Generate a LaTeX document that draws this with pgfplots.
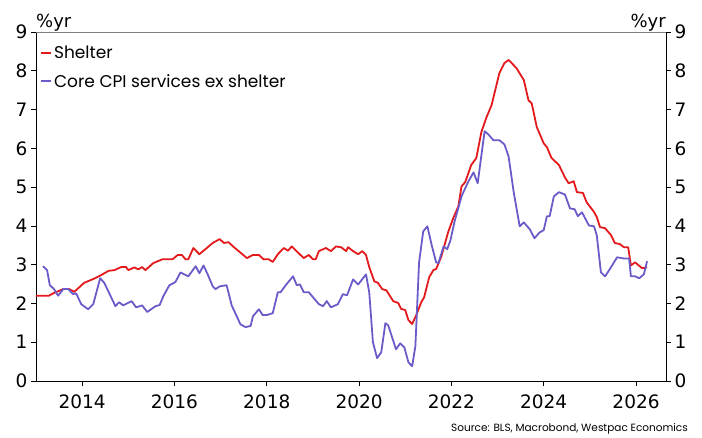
\documentclass[border=0pt]{standalone}
\usepackage{fontspec}
\setmainfont{Poppins}
\newfontfamily\tickfont{DejaVu Sans}
\usepackage{pgfplots}
\pgfplotsset{compat=1.18}
\definecolor{shred}{HTML}{E3191B}
\definecolor{cpiblue}{HTML}{6A5CC8}
\begin{document}
\begin{tikzpicture}
\useasboundingbox (-36pt,-56pt) rectangle (666pt,381pt);
\pgfplotsset{every axis/.append style={
  scale only axis, width=630pt, height=349pt, at={(0,0)}, anchor=south west,
  xmin=2013, xmax=2026.65, ymin=0, ymax=9,
  tick align=outside, major tick length=5pt,
  every tick/.style={black, line width=0.6pt},
  axis line style={black, line width=0.8pt},
  ytick={0,1,...,9},
  /pgf/number format/assume math mode=true,
  /pgf/number format/1000 sep={},
  tick label style={font=\tickfont\fontsize{18.5}{20}\selectfont},
  clip=false,
}}
\begin{axis}[
  axis x line*=bottom, axis y line*=left,
  xtick={2014,2016,...,2026},
  xticklabel style={yshift=-5pt},
  legend cell align=left,
  legend style={at={(0.003,0.973)}, anchor=north west, draw=none, fill=none,
    font=\fontsize{17}{19}\selectfont, row sep=10.5pt, inner sep=2pt},
  legend image code/.code={\draw[#1, line width=2pt, line cap=butt] (0pt,0pt) -- (10pt,0pt);},
]
\draw[gray, line width=0.8pt] (rel axis cs:0,1) -- (rel axis cs:1,1);
\addplot[shred, line width=1.8pt, line join=round] coordinates {
(2013.00,2.2) (2013.28,2.2) (2013.39,2.27) (2013.59,2.37) (2013.72,2.37) (2013.83,2.3)
(2014.04,2.53) (2014.24,2.63) (2014.41,2.73) (2014.57,2.84) (2014.70,2.86) (2014.85,2.94)
(2014.95,2.94) (2015.00,2.86) (2015.13,2.93) (2015.22,2.88) (2015.30,2.94) (2015.37,2.86)
(2015.54,3.04) (2015.74,3.14) (2015.96,3.14) (2016.07,3.25) (2016.16,3.25) (2016.24,3.14)
(2016.30,3.14) (2016.41,3.43) (2016.54,3.27) (2016.83,3.56) (2016.98,3.66) (2017.07,3.56)
(2017.17,3.58) (2017.28,3.46) (2017.57,3.17) (2017.70,3.25) (2017.83,3.25) (2017.93,3.14)
(2018.04,3.14) (2018.13,3.07) (2018.24,3.27) (2018.37,3.43) (2018.46,3.36) (2018.54,3.47)
(2018.80,3.17) (2018.91,3.25) (2019.00,3.14) (2019.06,3.14) (2019.13,3.35) (2019.28,3.43)
(2019.39,3.35) (2019.50,3.47) (2019.61,3.45) (2019.72,3.35) (2019.76,3.45) (2019.87,3.35)
(2019.98,3.27) (2020.07,3.35) (2020.15,3.25) (2020.22,2.94) (2020.33,2.57) (2020.41,2.53)
(2020.50,2.37) (2020.59,2.34) (2020.74,2.06) (2020.85,2.01) (2020.91,1.86) (2021.00,1.83)
(2021.07,1.57) (2021.15,1.47) (2021.24,1.7) (2021.35,2.04) (2021.41,2.16) (2021.52,2.68)
(2021.61,2.86) (2021.67,2.89) (2021.78,3.2) (2021.93,3.84) (2022.04,4.2) (2022.15,4.5)
(2022.22,5.02) (2022.30,5.13) (2022.43,5.57) (2022.54,5.75) (2022.65,6.42) (2022.76,6.8)
(2022.87,7.11) (2023.04,7.94) (2023.15,8.2) (2023.24,8.28) (2023.41,8.07) (2023.57,7.76)
(2023.67,7.24) (2023.74,7.16) (2023.85,6.55) (2024.00,6.13) (2024.07,6.03) (2024.17,5.75)
(2024.33,5.57) (2024.46,5.25) (2024.54,5.1) (2024.65,5.15) (2024.72,4.87) (2024.85,4.85)
(2024.93,4.61) (2025.09,4.36) (2025.15,4.23) (2025.22,3.97) (2025.33,3.94) (2025.46,3.76)
(2025.54,3.56) (2025.65,3.53) (2025.74,3.45) (2025.83,3.45) (2025.89,2.98) (2025.98,3.06)
(2026.13,2.91) (2026.24,2.93)
};
\addlegendentry{Shelter}
\addplot[cpiblue, line width=1.8pt, line join=round] coordinates {
(2013.15,2.96) (2013.24,2.86) (2013.30,2.47) (2013.39,2.37) (2013.48,2.2) (2013.59,2.37)
(2013.70,2.37) (2013.80,2.24) (2013.87,2.26) (2013.98,1.98) (2014.13,1.85) (2014.24,1.98)
(2014.39,2.65) (2014.48,2.53) (2014.72,1.93) (2014.80,2.03) (2014.89,1.95) (2015.07,2.06)
(2015.17,1.9) (2015.30,1.95) (2015.41,1.78) (2015.59,1.93) (2015.68,1.96) (2015.76,2.19)
(2015.89,2.47) (2016.02,2.55) (2016.13,2.8) (2016.30,2.7) (2016.46,2.96) (2016.54,2.78)
(2016.63,2.98) (2016.72,2.75) (2016.83,2.44) (2016.89,2.37) (2016.98,2.44) (2017.13,2.47)
(2017.24,1.95) (2017.33,1.72) (2017.43,1.46) (2017.54,1.39) (2017.65,1.42) (2017.70,1.67)
(2017.83,1.85) (2017.91,1.7) (2018.00,1.7) (2018.13,1.75) (2018.24,2.29) (2018.30,2.29)
(2018.41,2.47) (2018.57,2.7) (2018.65,2.47) (2018.72,2.49) (2018.80,2.29) (2018.91,2.29)
(2019.13,1.98) (2019.22,1.93) (2019.30,2.06) (2019.39,1.9) (2019.54,1.98) (2019.65,2.24)
(2019.74,2.21) (2019.87,2.62) (2019.98,2.49) (2020.15,2.75) (2020.22,2.29) (2020.30,1.0)
(2020.39,0.59) (2020.48,0.74) (2020.57,1.49) (2020.63,1.44) (2020.80,0.82) (2020.89,0.97)
(2020.98,0.87) (2021.07,0.48) (2021.15,0.38) (2021.22,0.9) (2021.30,3.06) (2021.39,3.86)
(2021.48,3.99) (2021.57,3.52) (2021.67,3.06) (2021.72,3.04) (2021.83,3.47) (2021.91,3.4)
(2021.98,3.63) (2022.07,4.12) (2022.22,4.76) (2022.26,4.87) (2022.37,5.15) (2022.48,5.38)
(2022.57,5.1) (2022.63,5.64) (2022.72,6.44) (2022.80,6.36) (2022.91,6.21) (2023.04,6.21)
(2023.15,6.1) (2023.24,5.79) (2023.35,4.87) (2023.48,3.99) (2023.57,4.09) (2023.70,3.91)
(2023.80,3.68) (2023.91,3.83) (2024.00,3.89) (2024.07,4.25) (2024.13,4.25) (2024.22,4.76)
(2024.33,4.87) (2024.46,4.81) (2024.57,4.45) (2024.67,4.43) (2024.74,4.25) (2024.83,4.35)
(2024.98,4.01) (2025.09,3.99) (2025.15,3.76) (2025.24,2.8) (2025.33,2.7) (2025.43,2.88)
(2025.59,3.19) (2025.74,3.16) (2025.85,3.16) (2025.89,2.7) (2025.98,2.7) (2026.07,2.65)
(2026.17,2.75) (2026.24,3.09)
};
\addlegendentry{Core CPI services ex shelter}
\node[anchor=base west, font=\tickfont\fontsize{18}{20}\selectfont, inner sep=0pt] at (axis description cs:0.0,1.014) {\%yr};
\node[anchor=base east, font=\tickfont\fontsize{18}{20}\selectfont, inner sep=0pt] at (axis description cs:1.0,1.014) {\%yr};
\node[anchor=base east, font=\fontsize{10.5}{12}\selectfont, inner sep=0pt] at (axis description cs:1.035,-0.146) {Source: BLS, Macrobond, Westpac Economics};
\end{axis}
\begin{axis}[
  axis y line*=right, axis x line=none,
  xtick=\empty,
]
\end{axis}
\end{tikzpicture}
\end{document}
